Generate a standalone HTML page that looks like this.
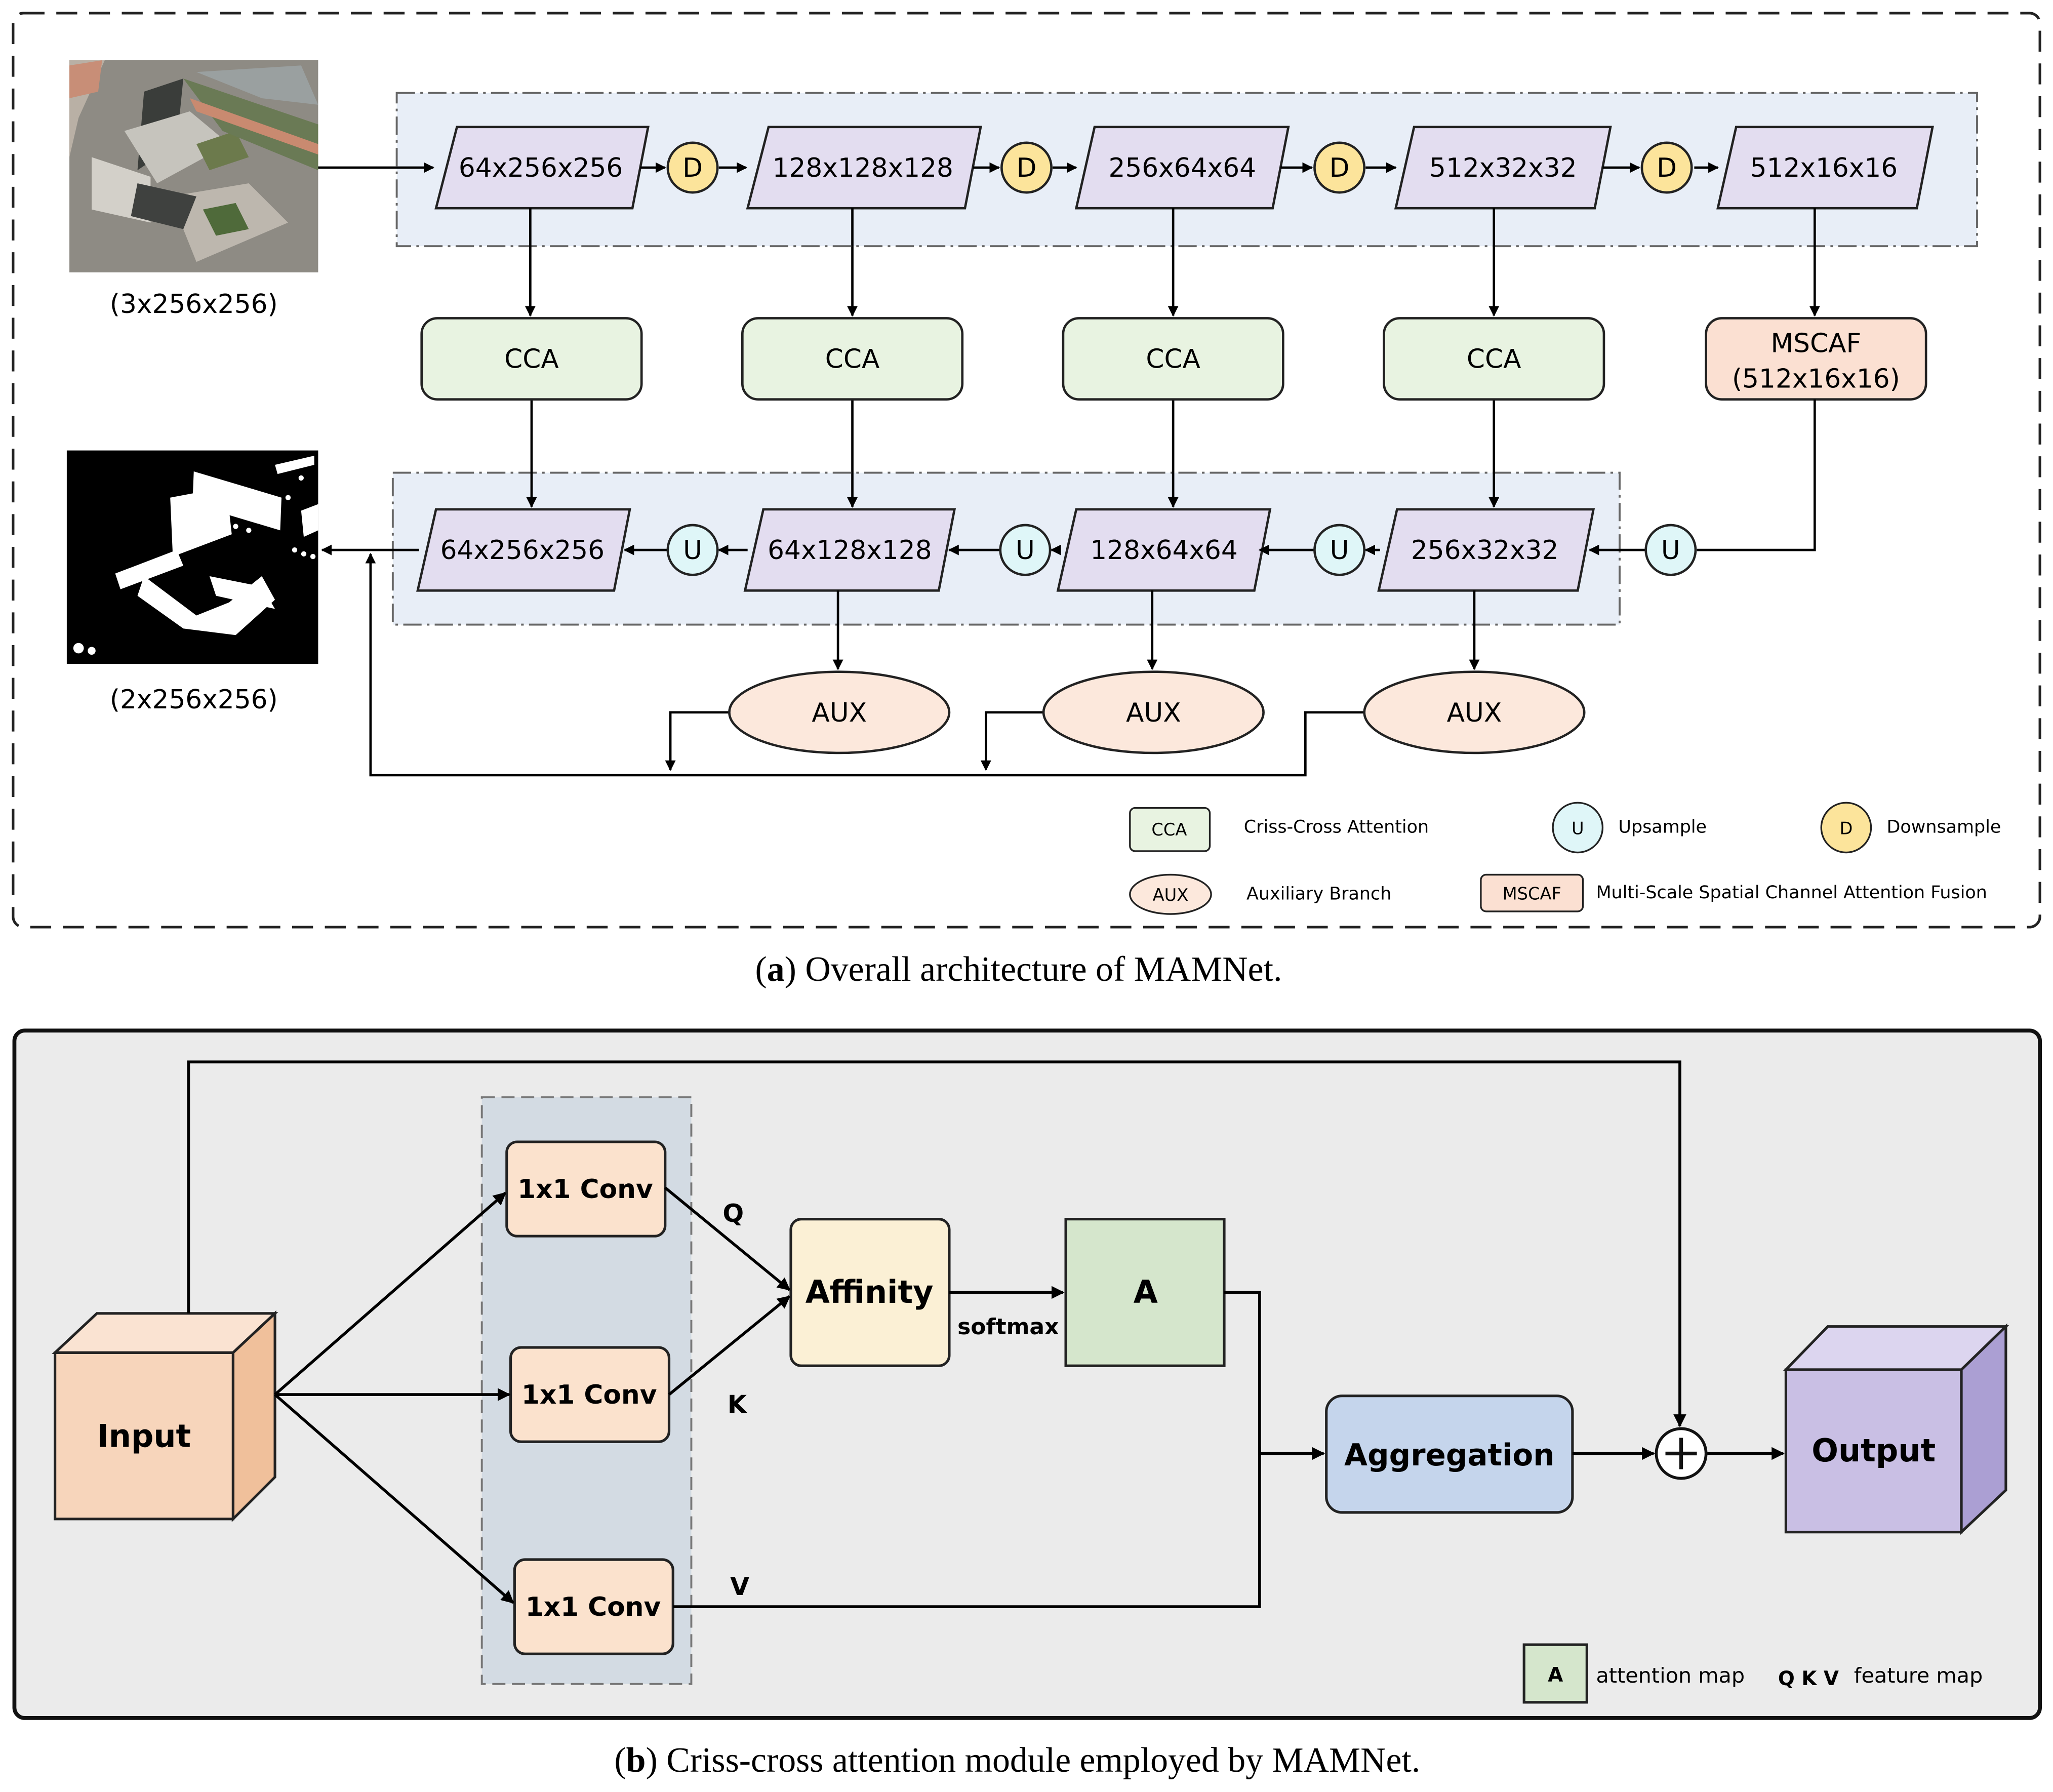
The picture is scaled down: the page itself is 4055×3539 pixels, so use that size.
<!DOCTYPE html>
<html><head><meta charset="utf-8"><style>
html,body{margin:0;padding:0;background:#fff}
svg{display:block}
text{font-family:"DejaVu Sans","Liberation Sans",sans-serif}
.b{font-weight:bold}
.s{font-family:"Liberation Serif",serif}
</style></head><body>
<svg width="4055" height="3539" viewBox="0 0 1568 1368.5" preserveAspectRatio="none" xmlns="http://www.w3.org/2000/svg">
<defs>
<marker id="ar2" viewBox="0 0 10 10" refX="9" refY="5" markerWidth="4.5" markerHeight="4.5" orient="auto" markerUnits="strokeWidth"><path d="M0,0 L10,5 L0,10 z" fill="#000"/></marker>
</defs>
<rect x="0" y="0" width="1568" height="1368.5" fill="#fff"/>
<!-- (a) -->
<rect x="10" y="10" width="1548" height="698" rx="8" fill="none" stroke="#222" stroke-width="2" stroke-dasharray="16,9"/>
<rect x="303" y="71" width="1207" height="117" fill="#e8eef7" stroke="#666" stroke-width="1.5" stroke-dasharray="14,4,2,4"/>
<rect x="300" y="361" width="937" height="116" fill="#e8eef7" stroke="#666" stroke-width="1.5" stroke-dasharray="14,4,2,4"/>
<g>
<rect x="53" y="46" width="190" height="162" fill="#8e8b84"/>
<polygon points="53,46 80,46 60,90 53,120" fill="#b9b0a5"/>
<polygon points="53,50 78,46 75,70 53,75" fill="#c88e77"/>
<polygon points="110,70 140,60 135,110 105,130" fill="#3a3d3a"/>
<polygon points="95,100 145,85 175,110 120,140" fill="#c6c4bd"/>
<polygon points="150,110 180,100 190,120 160,130" fill="#6c7a4c"/>
<polygon points="140,60 243,95 243,130 170,100" fill="#6a7a55"/>
<polygon points="145,75 243,110 243,118 150,85" fill="#c98a70"/>
<polygon points="150,55 230,50 243,80 200,75" fill="#9aa0a0"/>
<polygon points="70,120 115,135 115,170 70,160" fill="#d3d0c9"/>
<polygon points="130,150 190,140 220,170 150,200" fill="#bdb7ae"/>
<polygon points="155,160 180,155 190,175 165,180" fill="#4f6a3a"/>
<polygon points="105,140 150,150 140,175 100,165" fill="#3f413f"/>
</g>
<text x="148" y="239" font-size="20" text-anchor="middle">(3x256x256)</text>
<rect x="51" y="344" width="192" height="163" fill="#000"/>
<g fill="#fff">
<polygon points="130,380 173,372 177,408 132,425"/>
<polygon points="148,360 215,380 214,405 147,385"/>
<polygon points="88,438 135,420 140,432 92,450"/>
<polygon points="110,440 150,470 175,460 200,440 210,458 180,485 140,480 105,455"/>
<polygon points="160,440 200,448 210,465 165,455"/>
<polygon points="230,390 243,385 243,405 232,410"/>
<polygon points="210,355 240,348 240,355 212,362"/>
<circle cx="60" cy="495" r="4"/><circle cx="70" cy="497" r="3"/>
<circle cx="165" cy="397" r="2"/><circle cx="172" cy="400" r="2"/><circle cx="180" cy="402" r="2"/><circle cx="190" cy="405" r="2"/>
<circle cx="225" cy="420" r="2"/><circle cx="232" cy="423" r="2"/><circle cx="239" cy="425" r="2"/>
<circle cx="220" cy="380" r="2"/><circle cx="230" cy="365" r="2"/>
</g>
<text x="148" y="541" font-size="20" text-anchor="middle">(2x256x256)</text>
<g stroke="#222" stroke-width="1.8" fill="#e3ddf0">
<polygon points="349,97 495,97 483,159 333,159"/>
<polygon points="587,97 749,97 737,159 571,159"/>
<polygon points="836,97 984,97 972,159 822,159"/>
<polygon points="1080,97 1230,97 1218,159 1066,159"/>
<polygon points="1326,97 1476,97 1464,159 1312,159"/>
</g>
<g font-size="20" text-anchor="middle">
<text x="413" y="135">64x256x256</text>
<text x="659" y="135">128x128x128</text>
<text x="903" y="135">256x64x64</text>
<text x="1148" y="135">512x32x32</text>
<text x="1393" y="135">512x16x16</text>
</g>
<g stroke="#000" stroke-width="1.8" fill="none" marker-end="url(#ar2)">
<line x1="243" y1="128" x2="331" y2="128"/>
<line x1="489" y1="128" x2="508" y2="128"/>
<line x1="549" y1="128" x2="570" y2="128"/>
<line x1="743" y1="128" x2="763" y2="128"/>
<line x1="804" y1="128" x2="822" y2="128"/>
<line x1="978" y1="128" x2="1002" y2="128"/>
<line x1="1043" y1="128" x2="1066" y2="128"/>
<line x1="1224" y1="128" x2="1252" y2="128"/>
<line x1="1294" y1="128" x2="1312" y2="128"/>
<line x1="405" y1="159" x2="405" y2="241"/>
<line x1="651" y1="159" x2="651" y2="241"/>
<line x1="896" y1="159" x2="896" y2="241"/>
<line x1="1141" y1="159" x2="1141" y2="241"/>
<line x1="1386" y1="159" x2="1386" y2="241"/>
<line x1="406" y1="305" x2="406" y2="387"/>
<line x1="651" y1="305" x2="651" y2="387"/>
<line x1="896" y1="305" x2="896" y2="387"/>
<line x1="1141" y1="305" x2="1141" y2="387"/>
</g>
<g stroke="#222" stroke-width="1.8" fill="#fce49b">
<circle cx="529" cy="128" r="19"/><circle cx="784" cy="128" r="19"/><circle cx="1023" cy="128" r="19"/><circle cx="1273" cy="128" r="19"/>
</g>
<g font-size="20" text-anchor="middle">
<text x="529" y="135">D</text><text x="784" y="135">D</text><text x="1023" y="135">D</text><text x="1273" y="135">D</text>
</g>
<g stroke="#222" stroke-width="1.8" fill="#e8f3e1">
<rect x="322" y="243" width="168" height="62" rx="12"/>
<rect x="567" y="243" width="168" height="62" rx="12"/>
<rect x="812" y="243" width="168" height="62" rx="12"/>
<rect x="1057" y="243" width="168" height="62" rx="12"/>
</g>
<rect x="1303" y="243" width="168" height="62" rx="12" fill="#fbe0d2" stroke="#222" stroke-width="1.8"/>
<g font-size="20" text-anchor="middle">
<text x="406" y="281">CCA</text><text x="651" y="281">CCA</text><text x="896" y="281">CCA</text><text x="1141" y="281">CCA</text>
<text x="1387" y="269">MSCAF</text><text x="1387" y="296">(512x16x16)</text>
</g>
<g stroke="#222" stroke-width="1.8" fill="#e3ddf0">
<polygon points="333,389 481,389 469,451 319,451"/>
<polygon points="583,389 729,389 717,451 569,451"/>
<polygon points="822,389 970,389 958,451 808,451"/>
<polygon points="1067,389 1217,389 1205,451 1053,451"/>
</g>
<g font-size="20" text-anchor="middle">
<text x="399" y="427">64x256x256</text>
<text x="649" y="427">64x128x128</text>
<text x="889" y="427">128x64x64</text>
<text x="1134" y="427">256x32x32</text>
</g>
<g stroke="#000" stroke-width="1.8" fill="none">
<polyline points="1386,305 1386,420 1296,420"/>
<line x1="1257" y1="420" x2="1214" y2="420" marker-end="url(#ar2)"/>
<line x1="1054" y1="420" x2="1043" y2="420" marker-end="url(#ar2)"/>
<line x1="1004" y1="420" x2="962" y2="420" marker-end="url(#ar2)"/>
<line x1="810" y1="420" x2="803" y2="420" marker-end="url(#ar2)"/>
<line x1="764" y1="420" x2="725" y2="420" marker-end="url(#ar2)"/>
<line x1="571" y1="420" x2="549" y2="420" marker-end="url(#ar2)"/>
<line x1="510" y1="420" x2="477" y2="420" marker-end="url(#ar2)"/>
<line x1="320" y1="420" x2="246" y2="420" marker-end="url(#ar2)"/>
<line x1="640" y1="451" x2="640" y2="511" marker-end="url(#ar2)"/>
<line x1="880" y1="451" x2="880" y2="511" marker-end="url(#ar2)"/>
<line x1="1126" y1="451" x2="1126" y2="511" marker-end="url(#ar2)"/>
<polyline points="557,544 512,544 512,588" marker-end="url(#ar2)"/>
<polyline points="797,544 753,544 753,588" marker-end="url(#ar2)"/>
<polyline points="1042,544 997,544 997,592 283,592 283,423" marker-end="url(#ar2)"/>
</g>
<g stroke="#222" stroke-width="1.8" fill="#dff6f8">
<circle cx="529" cy="420" r="19"/><circle cx="783" cy="420" r="19"/><circle cx="1023" cy="420" r="19"/><circle cx="1276" cy="420" r="19"/>
</g>
<g font-size="20" text-anchor="middle">
<text x="529" y="427">U</text><text x="783" y="427">U</text><text x="1023" y="427">U</text><text x="1276" y="427">U</text>
</g>
<g stroke="#222" stroke-width="1.8" fill="#fce8dc">
<ellipse cx="641" cy="544" rx="84" ry="31"/><ellipse cx="881" cy="544" rx="84" ry="31"/><ellipse cx="1126" cy="544" rx="84" ry="31"/>
</g>
<g font-size="20" text-anchor="middle">
<text x="641" y="551">AUX</text><text x="881" y="551">AUX</text><text x="1126" y="551">AUX</text>
</g>
<rect x="863" y="617" width="61" height="33" rx="4" fill="#e8f3e1" stroke="#222" stroke-width="1.3"/>
<text x="893" y="638" font-size="13" text-anchor="middle">CCA</text>
<text x="950" y="636" font-size="13.5">Criss-Cross Attention</text>
<circle cx="1205" cy="632" r="19" fill="#dff6f8" stroke="#222" stroke-width="1.3"/>
<text x="1205" y="637" font-size="13" text-anchor="middle">U</text>
<text x="1236" y="636" font-size="13.5">Upsample</text>
<circle cx="1410" cy="632" r="19" fill="#fce49b" stroke="#222" stroke-width="1.3"/>
<text x="1410" y="637" font-size="13" text-anchor="middle">D</text>
<text x="1441" y="636" font-size="13.5">Downsample</text>
<ellipse cx="894" cy="683" rx="31" ry="15" fill="#fce8dc" stroke="#222" stroke-width="1.3"/>
<text x="894" y="688" font-size="13" text-anchor="middle">AUX</text>
<text x="952" y="687" font-size="13.5">Auxiliary Branch</text>
<rect x="1131" y="668" width="78" height="28" rx="4" fill="#fbe0d2" stroke="#222" stroke-width="1.3"/>
<text x="1170" y="687" font-size="13" text-anchor="middle">MSCAF</text>
<text x="1219" y="686" font-size="13.5">Multi-Scale Spatial Channel Attention Fusion</text>
<text x="778" y="749" font-size="27" text-anchor="middle" class="s">(<tspan font-weight="bold">a</tspan>) Overall architecture of MAMNet.</text>
<!-- (b) -->
<rect x="11" y="787" width="1547" height="525" rx="8" fill="#ebebeb" stroke="#111" stroke-width="3"/>
<rect x="368" y="838" width="160" height="448" fill="#d3dbe3" stroke="#777" stroke-width="1.5" stroke-dasharray="10,5"/>
<g stroke="#222" stroke-width="2">
<polygon points="42,1033 74,1003 210,1003 178,1033" fill="#fae3d2"/>
<polygon points="178,1033 210,1003 210,1128 178,1160" fill="#f0c09b"/>
<rect x="42" y="1033" width="136" height="127" fill="#f7d5bb"/>
</g>
<text x="110" y="1105" font-size="24" text-anchor="middle" class="b">Input</text>
<g stroke="#222" stroke-width="2">
<polygon points="1364,1046 1396,1013 1532,1013 1498,1046" fill="#dcd5ef"/>
<polygon points="1498,1046 1532,1013 1532,1138 1498,1170" fill="#ab9fd3"/>
<rect x="1364" y="1046" width="134" height="124" fill="#c9bfe4"/>
</g>
<text x="1431" y="1116" font-size="24" text-anchor="middle" class="b">Output</text>
<g stroke="#222" stroke-width="2" fill="#fbe2cd">
<rect x="387" y="872" width="121" height="72" rx="8"/>
<rect x="390" y="1029" width="121" height="72" rx="8"/>
<rect x="393" y="1191" width="121" height="72" rx="8"/>
</g>
<g font-size="20" text-anchor="middle" class="b">
<text x="447" y="915">1x1 Conv</text>
<text x="450" y="1072">1x1 Conv</text>
<text x="453" y="1234">1x1 Conv</text>
</g>
<rect x="604" y="931" width="121" height="112" rx="8" fill="#fbf0d5" stroke="#222" stroke-width="2"/>
<text x="664" y="995" font-size="24" text-anchor="middle" class="b">Affinity</text>
<rect x="814" y="931" width="121" height="112" fill="#d5e6cc" stroke="#222" stroke-width="2"/>
<text x="875" y="995" font-size="24" text-anchor="middle" class="b">A</text>
<rect x="1013" y="1066" width="188" height="89" rx="12" fill="#c5d5ec" stroke="#222" stroke-width="2"/>
<text x="1107" y="1119" font-size="23" text-anchor="middle" class="b">Aggregation</text>
<circle cx="1284" cy="1110" r="19" fill="#fff" stroke="#111" stroke-width="2.2"/>
<path d="M1272,1110 H1296 M1284,1098 V1122" stroke="#111" stroke-width="2.8"/>
<g font-size="19" class="b" text-anchor="middle">
<text x="560" y="933">Q</text><text x="563" y="1079">K</text><text x="565" y="1218">V</text>
</g>
<text x="770" y="1019" font-size="17" class="b" text-anchor="middle">softmax</text>
<g stroke="#000" stroke-width="2.2" fill="none" marker-end="url(#ar2)">
<line x1="210" y1="1065" x2="386" y2="911"/>
<line x1="210" y1="1065" x2="389" y2="1065"/>
<line x1="210" y1="1065" x2="392" y2="1224"/>
<line x1="508" y1="907" x2="603" y2="985"/>
<line x1="511" y1="1065" x2="603" y2="990"/>
<line x1="725" y1="987" x2="812" y2="987"/>
<polyline points="935,987 962,987 962,1110 1011,1110"/>
<polyline points="144,1003 144,811 1283,811 1283,1089"/>
<line x1="1201" y1="1110" x2="1263" y2="1110"/>
<line x1="1304" y1="1110" x2="1362" y2="1110"/>
</g>
<polyline points="514,1227 962,1227 962,1105" stroke="#000" stroke-width="2.2" fill="none"/>
<rect x="1164" y="1256" width="48" height="44" fill="#d5e6cc" stroke="#222" stroke-width="2"/>
<text x="1188" y="1284" font-size="15" class="b" text-anchor="middle">A</text>
<text x="1219" y="1285" font-size="16">attention map</text>
<text x="1358" y="1287" font-size="15" class="b">Q K V</text>
<text x="1416" y="1285" font-size="16">feature map</text>
<text x="777" y="1353" font-size="27" text-anchor="middle" class="s">(<tspan font-weight="bold">b</tspan>) Criss-cross attention module employed by MAMNet.</text>
</svg>
</body></html>
